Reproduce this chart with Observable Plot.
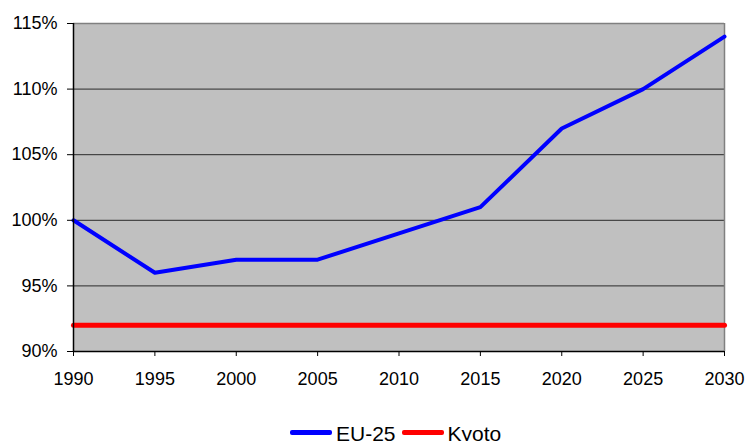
<!DOCTYPE html>
<html>
<head>
<meta charset="utf-8">
<script src="https://cdn.jsdelivr.net/npm/d3@7"></script>
<script src="https://cdn.jsdelivr.net/npm/@observablehq/plot@0.6"></script>
<style>
  html, body { margin: 0; padding: 0; background: #fff; }
  #wrap { position: relative; width: 745px; height: 441px; overflow: hidden; font-family: "Liberation Sans", Arial, sans-serif; }
  #legend { position: absolute; left: 290px; top: 423px; display: flex; align-items: center; font-size: 21px; line-height: 22px; color: #000; white-space: nowrap; }
  .sw { display: inline-block; width: 42px; height: 5px; border-radius: 2px; margin-right: 4px; position: relative; top: -2px; }
  .item { display: flex; align-items: center; margin-right: 6px; }
</style>
</head>
<body>
<div id="wrap"></div>
<script>
// Emissions relative to 1990 (percent)
const years = [1990, 1995, 2000, 2005, 2010, 2015, 2020, 2025, 2030];
const eu25 = [100, 96, 97, 97, 99, 101, 107, 110, 114];
const kyoto = [92, 92, 92, 92, 92, 92, 92, 92, 92];
const yTicks = [90, 95, 100, 105, 110, 115];
const xTicks = years;

const seriesNames = ["EU-25", "Kyoto"];
const seriesColors = ["#0000ff", "#ff0000"];

const euData = years.map((year, i) => ({year, value: eu25[i]}));
const kyotoData = years.map((year, i) => ({year, value: kyoto[i]}));

const chart = Plot.plot({
  width: 745,
  height: 400,
  marginLeft: 73,
  marginRight: 21,
  marginTop: 23,
  marginBottom: 49,
  style: {fontFamily: "'Liberation Sans', Arial, sans-serif", fontSize: "18px", color: "#000", background: "#fff"},
  x: {domain: [1990, 2030], ticks: xTicks, tickFormat: "d", label: null},
  y: {domain: [90, 115], ticks: yTicks, tickFormat: d => d + "%", label: null},
  marks: [
    Plot.frame({fill: "#c0c0c0", stroke: null}),
    Plot.ruleY(yTicks.filter(v => v > 90 && v < 115), {stroke: "#2a2a2a", strokeWidth: 1}),
    Plot.ruleY([115], {stroke: "#808080", strokeWidth: 1.5}),
    Plot.ruleX([2030], {stroke: "#808080", strokeWidth: 1.5}),
    Plot.line(kyotoData, {x: "year", y: "value", stroke: seriesColors[1], strokeWidth: 5}),
    Plot.line(euData, {x: "year", y: "value", stroke: seriesColors[0], strokeWidth: 4, strokeLinejoin: "round"}),
    Plot.ruleX([1990], {stroke: "#000", strokeWidth: 1.5}),
    Plot.ruleY([90], {stroke: "#000", strokeWidth: 1.5}),
    Plot.axisX({ticks: xTicks, tickFormat: "d", tickSize: 5, tickPadding: 16, fontSize: 18, stroke: "#000", label: null}),
    Plot.axisY({ticks: yTicks, tickFormat: d => d + "%", tickSize: 6, tickPadding: 10, fontSize: 18, stroke: "#000", label: null})
  ]
});

const wrap = document.getElementById("wrap");
wrap.appendChild(chart);

const legend = document.createElement("div");
legend.id = "legend";
seriesNames.forEach((name, i) => {
  const item = document.createElement("span");
  item.className = "item";
  const sw = document.createElement("span");
  sw.className = "sw";
  sw.style.background = seriesColors[i];
  item.appendChild(sw);
  item.appendChild(document.createTextNode(name));
  legend.appendChild(item);
});
wrap.appendChild(legend);
</script>
</body>
</html>
